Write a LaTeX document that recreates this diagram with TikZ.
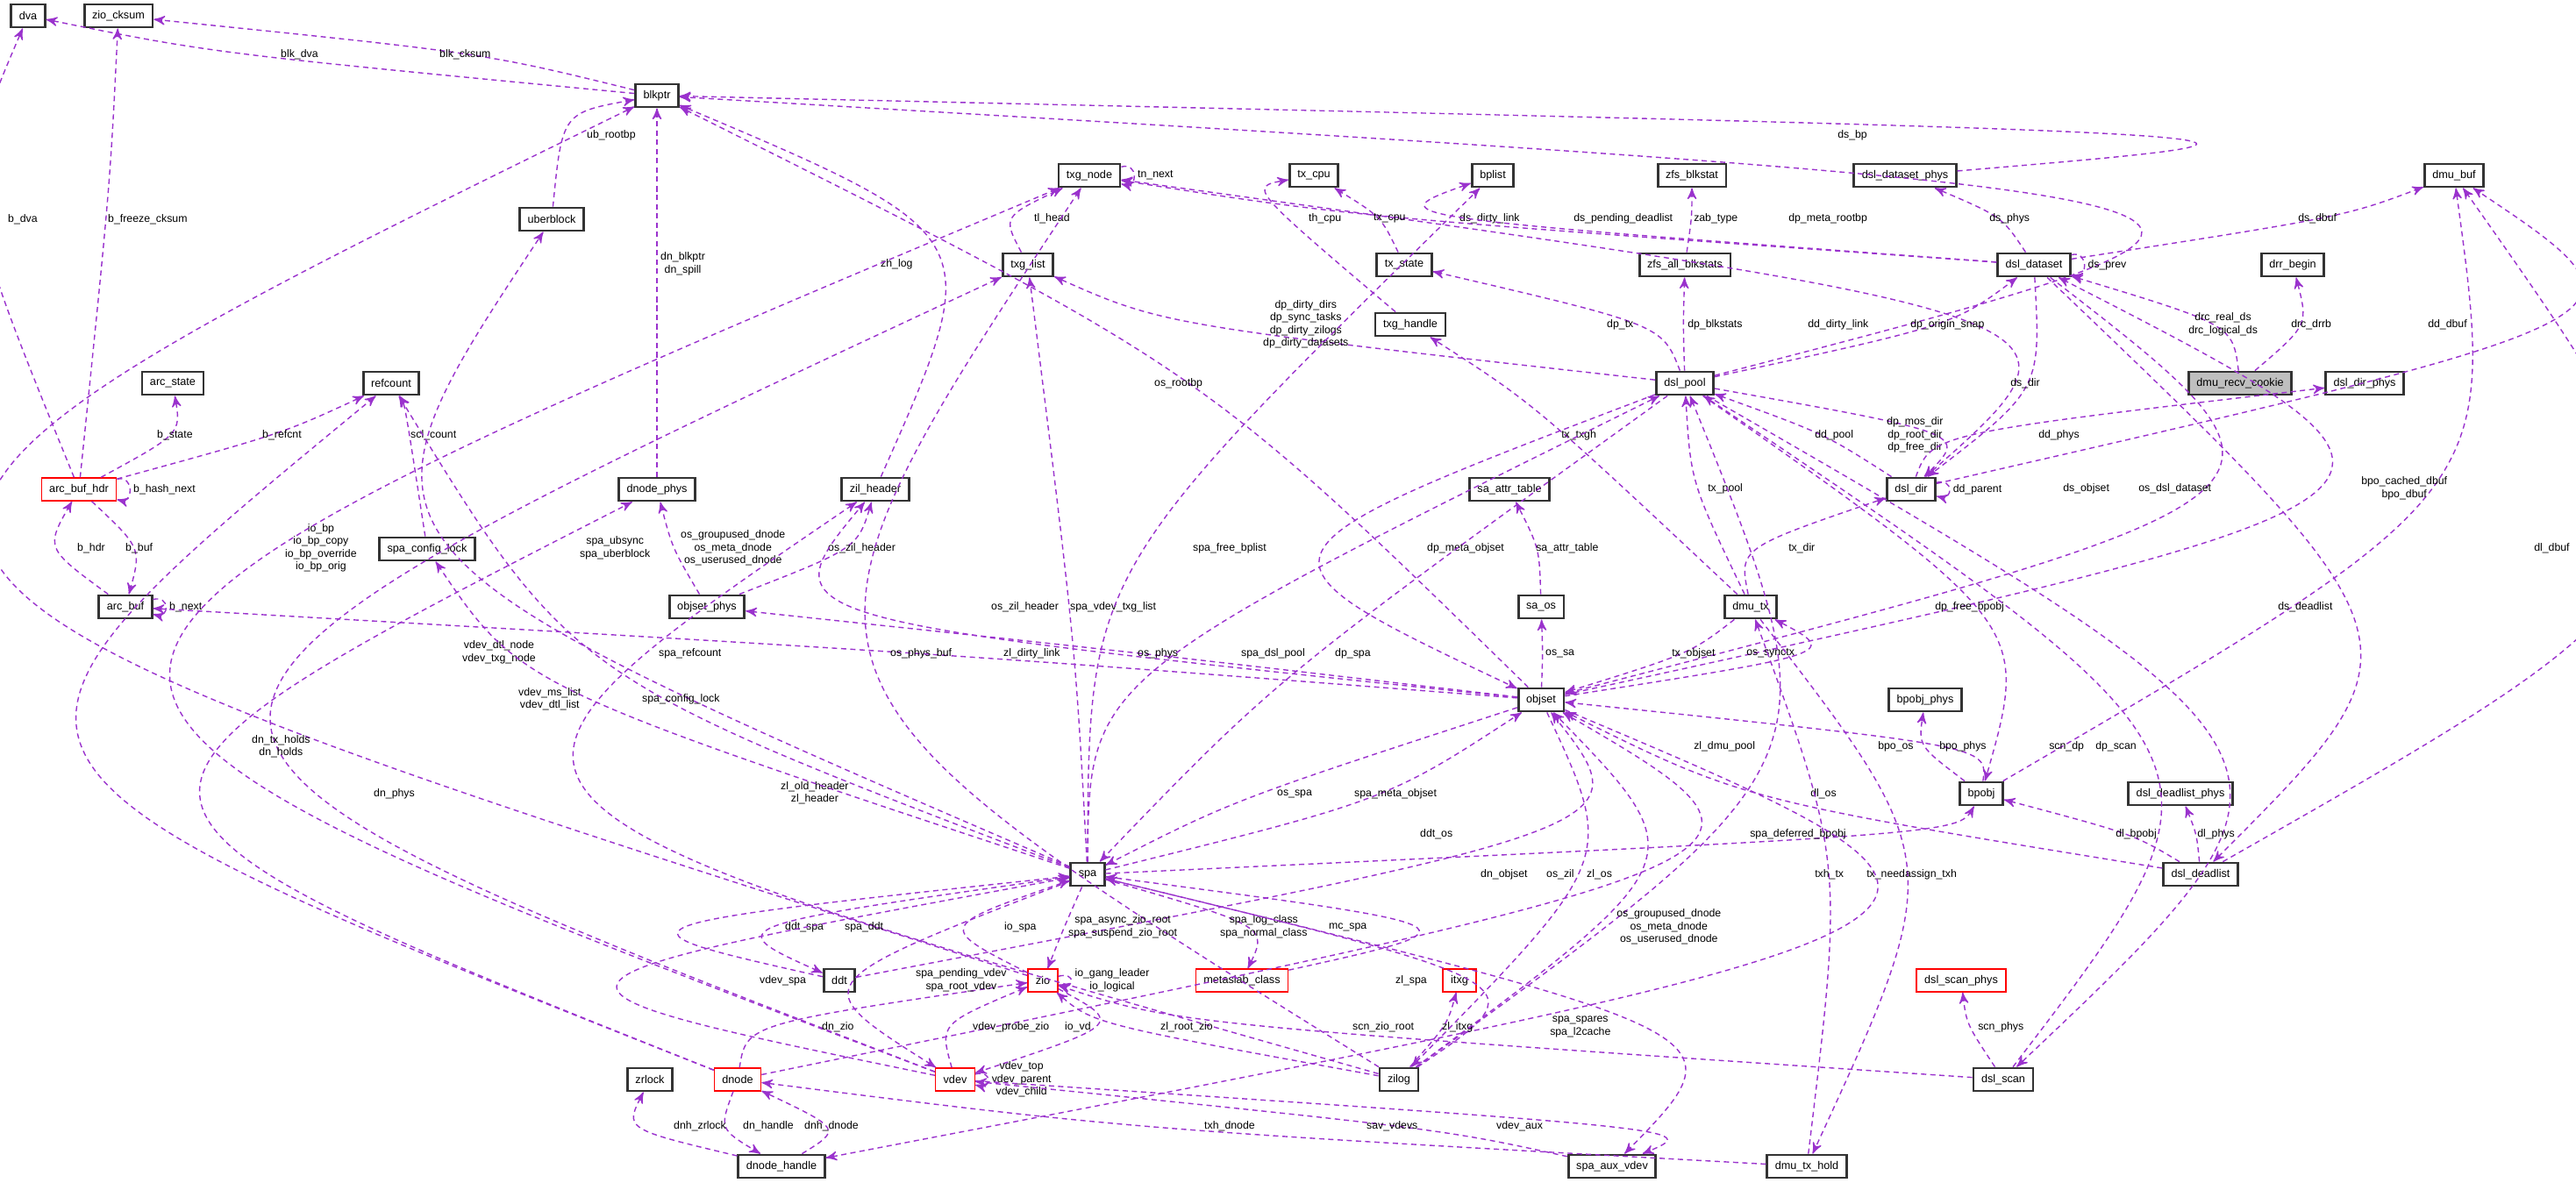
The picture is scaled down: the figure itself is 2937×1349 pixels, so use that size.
\documentclass[tikz,border=0pt]{standalone}
\usepackage{fontspec}
\setmainfont{Liberation Sans}
\usepackage{tikz}
\usetikzlibrary{ arrows, calc, positioning }
\definecolor{relcol}{HTML}{9A32CD}
\tikzset{
>=stealth', % filled arrow heads
x=0.01cm, y=-0.01cm, % one unit per pixel of the graph
cls/.style={draw=black!80, thick, fill=white, font=\fontsize{3.6}{4.2}\selectfont,
  minimum height=0.26cm, inner xsep=0.09cm, inner ysep=0pt},
redcls/.style={cls, draw=red, thin},
rootcls/.style={cls, fill=black!25},
rel/.style={->, relcol, thin, dash pattern=on 0.06cm off 0.045cm},
lbl/.style={font=\fontsize{3.5}{4.1}\selectfont, text=black, align=center, anchor=west, inner sep=1pt},
}
% member relation: user, type, point the curve passes, label
\newcommand{\rel}[4]{\draw[rel] (#1) .. controls ($2*(#3)-0.5*(#1)-0.5*(#2)$) .. (#2) node[lbl] at (#3) {#4};}
\newcommand{\selfrel}[2]{\draw[rel] (#1) to[loop right, min distance=0.2cm] node[lbl]{#2} (#1);}

\begin{document}
\begin{tikzpicture}
  \useasboundingbox (0,0) rectangle (2937,1349);

  % structures
  \node[cls] (dva) at (32,18) {dva};
  \node[cls] (zio_cksum) at (135,18) {zio\_cksum};
  \node[cls] (blkptr) at (749,109) {blkptr};
  \node[cls] (uberblock) at (629,250) {uberblock};
  \node[cls] (txg_node) at (1242,200) {txg\_node};
  \node[cls] (tx_cpu) at (1498,200) {tx\_cpu};
  \node[cls] (bplist) at (1702,200) {bplist};
  \node[cls] (zfs_blkstat) at (1929,200) {zfs\_blkstat};
  \node[cls] (dsl_dataset_phys) at (2172,200) {dsl\_dataset\_phys};
  \node[cls] (dmu_buf) at (2798,200) {dmu\_buf};
  \node[cls] (txg_list) at (1172,302) {txg\_list};
  \node[cls] (tx_state) at (1601,302) {tx\_state};
  \node[cls] (zfs_all_blkstats) at (1921,302) {zfs\_all\_blkstats};
  \node[cls] (dsl_dataset) at (2319,302) {dsl\_dataset};
  \node[cls] (drr_begin) at (2614,302) {drr\_begin};
  \node[cls] (txg_handle) at (1608,370) {txg\_handle};
  \node[cls] (arc_state) at (197,437) {arc\_state};
  \node[cls] (refcount) at (446,437) {refcount};
  \node[cls] (dsl_pool) at (1921,437) {dsl\_pool};
  \node[rootcls] (dmu_recv_cookie) at (2554,437) {dmu\_recv\_cookie};
  \node[cls] (dsl_dir_phys) at (2696,437) {dsl\_dir\_phys};
  \node[redcls] (arc_buf_hdr) at (90,558) {arc\_buf\_hdr};
  \node[cls] (dnode_phys) at (749,558) {dnode\_phys};
  \node[cls] (zil_header) at (998,558) {zil\_header};
  \node[cls] (sa_attr_table) at (1721,558) {sa\_attr\_table};
  \node[cls] (dsl_dir) at (2179,558) {dsl\_dir};
  \node[cls] (spa_config_lock) at (487,626) {spa\_config\_lock};
  \node[cls] (arc_buf) at (143,692) {arc\_buf};
  \node[cls] (objset_phys) at (806,692) {objset\_phys};
  \node[cls] (sa_os) at (1757,692) {sa\_os};
  \node[cls] (dmu_tx) at (1996,692) {dmu\_tx};
  \node[cls] (objset) at (1757,798) {objset};
  \node[cls] (bpobj_phys) at (2195,798) {bpobj\_phys};
  \node[cls] (bpobj) at (2259,905) {bpobj};
  \node[cls] (dsl_deadlist_phys) at (2486,905) {dsl\_deadlist\_phys};
  \node[cls] (spa) at (1240,997) {spa};
  \node[cls] (dsl_deadlist) at (2509,997) {dsl\_deadlist};
  \node[cls] (ddt) at (957,1118) {ddt};
  \node[redcls] (zio) at (1189,1118) {zio};
  \node[redcls] (metaslab_class) at (1416,1118) {metaslab\_class};
  \node[redcls] (itxg) at (1664,1118) {itxg};
  \node[redcls] (dsl_scan_phys) at (2236,1118) {dsl\_scan\_phys};
  \node[cls] (zrlock) at (741,1231) {zrlock};
  \node[redcls] (dnode) at (841,1231) {dnode};
  \node[redcls] (vdev) at (1089,1231) {vdev};
  \node[cls] (zilog) at (1595,1231) {zilog};
  \node[cls] (dsl_scan) at (2284,1231) {dsl\_scan};
  \node[cls] (dnode_handle) at (891,1330) {dnode\_handle};
  \node[cls] (spa_aux_vdev) at (1838,1330) {spa\_aux\_vdev};
  \node[cls] (dmu_tx_hold) at (2060,1330) {dmu\_tx\_hold};

  % members
  \rel{blkptr}{dva}{316,62}{blk\_dva}
  \rel{blkptr}{zio_cksum}{497,62}{blk\_cksum}
  \rel{arc_buf_hdr}{dva}{5,250}{b\_dva}
  \rel{arc_buf_hdr}{zio_cksum}{119,250}{b\_freeze\_cksum}
  \rel{arc_buf_hdr}{arc_state}{175,496}{b\_state}
  \rel{arc_buf_hdr}{refcount}{295,496}{b\_refcnt}
  \selfrel{arc_buf_hdr}{b\_hash\_next}
  \rel{arc_buf_hdr}{arc_buf}{139,625}{b\_buf}
  \rel{arc_buf}{arc_buf_hdr}{84,625}{b\_hdr}
  \selfrel{arc_buf}{b\_next}
  \rel{uberblock}{blkptr}{665,154}{ub\_rootbp}
  \rel{dnode_phys}{blkptr}{749,301}{dn\_blkptr\\dn\_spill}
  \rel{zil_header}{blkptr}{1000,301}{zh\_log}
  \rel{spa_config_lock}{refcount}{464,496}{scl\_count}
  \rel{zio}{blkptr}{321,625}{io\_bp\\io\_bp\_copy\\io\_bp\_override\\io\_bp\_orig}
  \rel{spa}{uberblock}{657,625}{spa\_ubsync\\spa\_uberblock}
  \rel{objset_phys}{dnode_phys}{772,625}{os\_groupused\_dnode\\os\_meta\_dnode\\os\_userused\_dnode}
  \rel{objset_phys}{zil_header}{940,625}{os\_zil\_header}
  \rel{objset}{objset_phys}{1293,745}{os\_phys}
  \rel{objset}{arc_buf}{1011,745}{os\_phys\_buf}
  \rel{zilog}{zil_header}{886,904}{zl\_old\_header\\zl\_header}
  \rel{objset}{zil_header}{1126,692}{os\_zil\_header}
  \rel{objset}{blkptr}{1312,437}{os\_rootbp}
  \rel{dsl_pool}{blkptr}{2035,249}{dp\_meta\_rootbp}
  \rel{dsl_dataset_phys}{blkptr}{2091,154}{ds\_bp}
  \rel{dsl_pool}{txg_list}{1436,370}{dp\_dirty\_dirs\\dp\_sync\_tasks\\dp\_dirty\_zilogs\\dp\_dirty\_datasets}
  \rel{txg_list}{txg_node}{1175,249}{tl\_head}
  \selfrel{txg_node}{tn\_next}
  \rel{dsl_dataset}{txg_node}{1660,249}{ds\_dirty\_link}
  \rel{dsl_dir}{txg_node}{2057,370}{dd\_dirty\_link}
  \rel{vdev}{txg_node}{523,744}{vdev\_dtl\_node\\vdev\_txg\_node}
  \rel{vdev}{txg_list}{587,797}{vdev\_ms\_list\\vdev\_dtl\_list}
  \rel{spa}{txg_list}{1216,692}{spa\_vdev\_txg\_list}
  \rel{zilog}{txg_node}{1140,745}{zl\_dirty\_link}
  \rel{spa}{bplist}{1356,625}{spa\_free\_bplist}
  \rel{txg_handle}{tx_cpu}{1488,249}{th\_cpu}
  \rel{tx_state}{tx_cpu}{1562,249}{tx\_cpu}
  \rel{dsl_dataset}{bplist}{1790,249}{ds\_pending\_deadlist}
  \rel{zfs_all_blkstats}{zfs_blkstat}{1927,249}{zab\_type}
  \rel{dsl_pool}{tx_state}{1828,370}{dp\_tx}
  \rel{dsl_pool}{zfs_all_blkstats}{1920,370}{dp\_blkstats}
  \rel{dsl_dataset}{dsl_dataset_phys}{2264,249}{ds\_phys}
  \rel{dsl_dataset}{dmu_buf}{2616,249}{ds\_dbuf}
  \selfrel{dsl_dataset}{ds\_prev}
  \rel{dmu_recv_cookie}{dsl_dataset}{2491,370}{drc\_real\_ds\\drc\_logical\_ds}
  \rel{dmu_recv_cookie}{drr_begin}{2608,370}{drc\_drrb}
  \rel{dsl_pool}{dsl_dataset}{2174,370}{dp\_origin\_snap}
  \rel{dsl_dataset}{dsl_dir}{2288,437}{ds\_dir}
  \rel{dsl_dir}{dsl_pool}{2065,496}{dd\_pool}
  \rel{dsl_pool}{dsl_dir}{2147,496}{dp\_mos\_dir\\dp\_root\_dir\\dp\_free\_dir}
  \selfrel{dsl_dir}{dd\_parent}
  \rel{dsl_dir}{dsl_dir_phys}{2320,496}{dd\_phys}
  \rel{dsl_dir}{dmu_buf}{2764,370}{dd\_dbuf}
  \rel{dsl_dataset}{objset}{2348,557}{ds\_objset}
  \rel{objset}{dsl_dataset}{2434,557}{os\_dsl\_dataset}
  \rel{dsl_deadlist}{dmu_buf}{2885,625}{dl\_dbuf}
  \rel{bpobj}{dmu_buf}{2688,557}{bpo\_cached\_dbuf\\bpo\_dbuf}
  \rel{dsl_dataset}{dsl_deadlist}{2593,692}{ds\_deadlist}
  \rel{dmu_tx}{txg_handle}{1776,496}{tx\_txgh}
  \rel{dmu_tx}{dsl_pool}{1943,557}{tx\_pool}
  \rel{dmu_tx}{dsl_dir}{2035,625}{tx\_dir}
  \rel{dmu_tx}{objset}{1902,745}{tx\_objset}
  \rel{objset}{dmu_tx}{1987,745}{os\_synctx}
  \rel{sa_os}{sa_attr_table}{1747,625}{sa\_attr\_table}
  \rel{objset}{sa_os}{1758,745}{os\_sa}
  \rel{dsl_pool}{objset}{1623,625}{dp\_meta\_objset}
  \rel{spa}{dsl_pool}{1411,745}{spa\_dsl\_pool}
  \rel{dsl_pool}{spa}{1518,745}{dp\_spa}
  \rel{objset}{spa}{1452,905}{os\_spa}
  \rel{spa}{objset}{1540,905}{spa\_meta\_objset}
  \rel{ddt}{objset}{1615,951}{ddt\_os}
  \rel{dsl_pool}{bpobj}{2202,692}{dp\_free\_bpobj}
  \rel{bpobj}{objset}{2137,851}{bpo\_os}
  \rel{bpobj}{bpobj_phys}{2207,851}{bpo\_phys}
  \rel{dsl_scan}{dsl_pool}{2332,851}{scn\_dp}
  \rel{dsl_pool}{dsl_scan}{2385,851}{dp\_scan}
  \rel{dsl_scan}{dsl_scan_phys}{2251,1171}{scn\_phys}
  \rel{dsl_deadlist}{bpobj}{2408,951}{dl\_bpobj}
  \rel{dsl_deadlist}{dsl_deadlist_phys}{2501,951}{dl\_phys}
  \rel{dsl_deadlist}{objset}{2060,905}{dl\_os}
  \rel{spa}{bpobj}{1991,951}{spa\_deferred\_bpobj}
  \rel{zilog}{dsl_pool}{1927,851}{zl\_dmu\_pool}
  \rel{dmu_tx_hold}{dmu_tx}{2065,997}{txh\_tx}
  \rel{dmu_tx}{dmu_tx_hold}{2124,997}{tx\_needassign\_txh}
  \rel{dmu_tx_hold}{dnode}{1369,1284}{txh\_dnode}
  \rel{spa}{refcount}{747,745}{spa\_refcount}
  \rel{spa}{spa_config_lock}{728,797}{spa\_config\_lock}
  \rel{dnode}{refcount}{283,851}{dn\_tx\_holds\\dn\_holds}
  \rel{dnode}{dnode_phys}{422,905}{dn\_phys}
  \rel{dnode}{objset}{1684,997}{dn\_objset}
  \rel{dnode}{zio}{933,1171}{dn\_zio}
  \rel{dnode}{dnode_handle}{843,1284}{dn\_handle}
  \rel{dnode_handle}{dnode}{913,1284}{dnh\_dnode}
  \rel{dnode_handle}{zrlock}{764,1284}{dnh\_zrlock}
  \rel{objset}{dnode_handle}{1839,1057}{os\_groupused\_dnode\\os\_meta\_dnode\\os\_userused\_dnode}
  \rel{spa}{ddt}{959,1057}{spa\_ddt}
  \rel{ddt}{spa}{891,1057}{ddt\_spa}
  \rel{spa}{zio}{1214,1057}{spa\_async\_zio\_root\\spa\_suspend\_zio\_root}
  \rel{zio}{spa}{1141,1057}{io\_spa}
  \rel{spa}{metaslab_class}{1387,1057}{spa\_log\_class\\spa\_normal\_class}
  \rel{metaslab_class}{spa}{1511,1057}{mc\_spa}
  \selfrel{zio}{io\_gang\_leader\\io\_logical}
  \rel{spa}{vdev}{1040,1118}{spa\_pending\_vdev\\spa\_root\_vdev}
  \rel{vdev}{spa}{862,1118}{vdev\_spa}
  \rel{vdev}{zio}{1105,1171}{vdev\_probe\_zio}
  \rel{zio}{vdev}{1210,1171}{io\_vd}
  \selfrel{vdev}{vdev\_top\\vdev\_parent\\vdev\_child}
  \rel{zilog}{zio}{1319,1171}{zl\_root\_zio}
  \rel{dsl_scan}{zio}{1538,1171}{scn\_zio\_root}
  \rel{zilog}{spa}{1587,1118}{zl\_spa}
  \rel{zilog}{itxg}{1640,1171}{zl\_itxg}
  \rel{objset}{zilog}{1759,997}{os\_zil}
  \rel{zilog}{objset}{1805,997}{zl\_os}
  \rel{spa}{spa_aux_vdev}{1763,1171}{spa\_spares\\spa\_l2cache}
  \rel{spa_aux_vdev}{vdev}{1554,1284}{sav\_vdevs}
  \rel{vdev}{spa_aux_vdev}{1702,1284}{vdev\_aux}
\end{tikzpicture}
\end{document}
